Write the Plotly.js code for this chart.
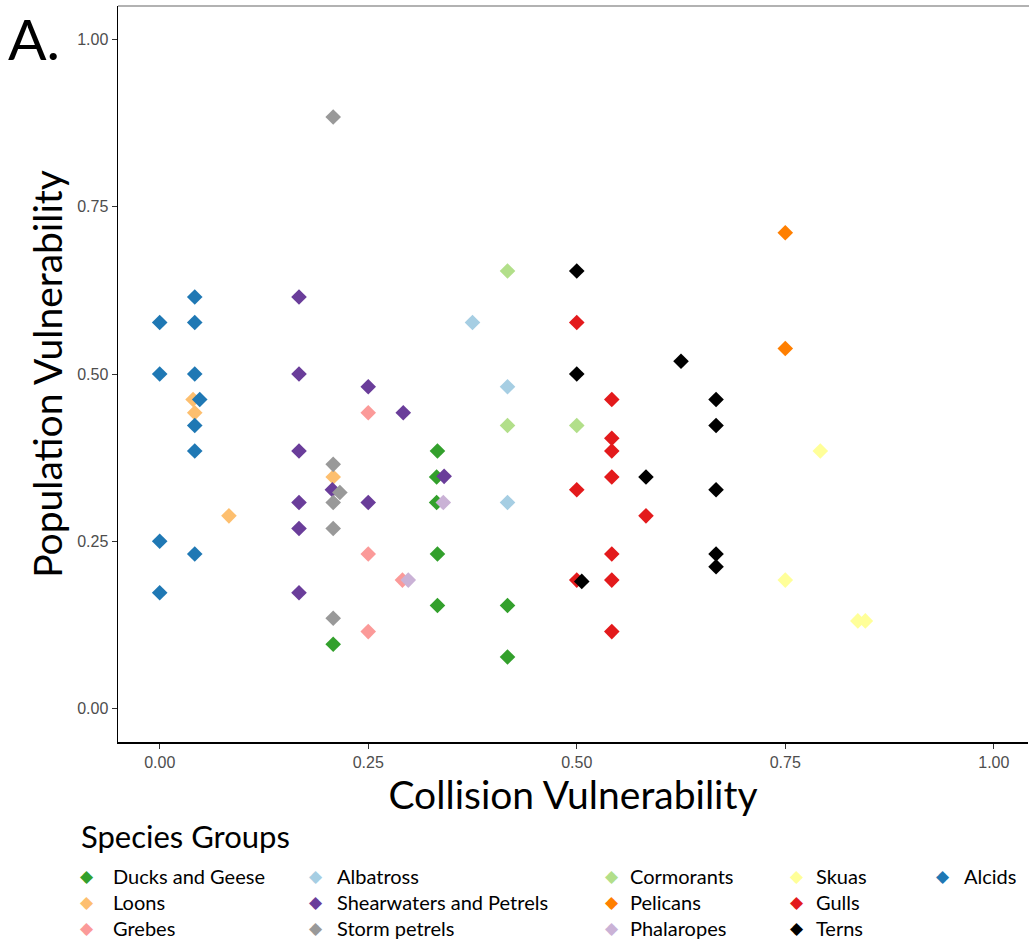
<!DOCTYPE html>
<html>
<head>
<meta charset="utf-8">
<script src="https://cdn.plot.ly/plotly-3.0.1.min.js"></script>
<style>html,body{margin:0;padding:0;background:#fff;}#chart{width:1029px;height:941px;}</style>
</head>
<body>
<div id="chart"></div>
<script>
// ---- data ----
const groups = ["Ducks and Geese","Loons","Grebes","Albatross","Shearwaters and Petrels","Storm petrels","Cormorants","Pelicans","Phalaropes","Skuas","Gulls","Terns","Alcids"];
const colors = ["#33a02c","#fdbf6f","#fb9a99","#a6cee3","#6a3d9a","#999999","#b2df8a","#ff7f00","#cab2d6","#ffff99","#e31a1c","#000000","#1f78b4"];

const ducksX = [0.333,0.332,0.332,0.333,0.333,0.417,0.208,0.417];
const ducksY = [0.385,0.346,0.308,0.231,0.154,0.154,0.096,0.077];
const loonsX = [0.040,0.042,0.083,0.208];
const loonsY = [0.462,0.442,0.288,0.346];
const grebesX = [0.250,0.250,0.291,0.250];
const grebesY = [0.442,0.231,0.192,0.115];
const albatrossX = [0.375,0.417,0.417];
const albatrossY = [0.577,0.481,0.308];
const shearX = [0.167,0.167,0.167,0.167,0.167,0.167,0.250,0.292,0.250,0.207,0.341];
const shearY = [0.615,0.500,0.385,0.308,0.269,0.173,0.481,0.442,0.308,0.327,0.347];
const stormX = [0.208,0.208,0.216,0.208,0.208,0.208];
const stormY = [0.884,0.365,0.323,0.308,0.269,0.135];
const cormX = [0.417,0.417,0.500];
const cormY = [0.654,0.423,0.423];
const pelicanX = [0.750,0.750];
const pelicanY = [0.711,0.538];
const phalX = [0.340,0.298];
const phalY = [0.308,0.192];
const skuaX = [0.792,0.750,0.837,0.846];
const skuaY = [0.385,0.192,0.131,0.131];
const gullX = [0.500,0.542,0.542,0.542,0.542,0.500,0.583,0.542,0.500,0.542,0.542];
const gullY = [0.577,0.462,0.404,0.385,0.346,0.327,0.288,0.231,0.192,0.192,0.115];
const ternX = [0.500,0.500,0.625,0.667,0.667,0.583,0.667,0.667,0.667,0.506];
const ternY = [0.654,0.500,0.519,0.462,0.423,0.346,0.327,0.231,0.212,0.190];
const alcidX = [0.042,0.000,0.042,0.000,0.042,0.048,0.042,0.042,0.000,0.042,0.000];
const alcidY = [0.615,0.577,0.577,0.500,0.500,0.462,0.423,0.385,0.250,0.231,0.173];

const seriesX = [ducksX,loonsX,grebesX,albatrossX,shearX,stormX,cormX,pelicanX,phalX,skuaX,gullX,ternX,alcidX];
const seriesY = [ducksY,loonsY,grebesY,albatrossY,shearY,stormY,cormY,pelicanY,phalY,skuaY,gullY,ternY,alcidY];

const tickVals = [0,0.25,0.5,0.75,1];
const tickText = ["0.00","0.25","0.50","0.75","1.00"];

// ---- layout geometry ----
const W = 1029, H = 941;
const M = {l:118, r:1, t:6, b:199};
const plotW = W - M.l - M.r, plotH = H - M.t - M.b;
const px2x = p => (p - M.l) / plotW;
const py2y = p => (H - M.b - p) / plotH;

const TITLE_FONT = "Lato, 'Open Sans', sans-serif";
const TICK_FONT = "'Liberation Sans', Arial, sans-serif";

const traces = groups.map((g, i) => ({
  type: "scatter",
  mode: "markers",
  name: g,
  x: seriesX[i],
  y: seriesY[i],
  marker: {symbol: "diamond", size: 12, color: colors[i], line: {width: 0}},
  showlegend: false,
  hoverinfo: "x+y+name"
}));

// legend (column-major, 3 rows)
const colDiamondX = [87, 316, 612, 797, 943];
const colTextX = [111, 335, 628, 814, 962];
const rowY = [876, 902, 928];
const annotations = [];
groups.forEach((g, i) => {
  const c = Math.floor(i / 3), r = i % 3;
  annotations.push({
    xref: "paper", yref: "paper", x: px2x(colDiamondX[c]), y: py2y(rowY[r]),
    xanchor: "center", yanchor: "middle", showarrow: false,
    text: "\u25C6", font: {family: "DejaVu Sans", size: 17, color: colors[i]}
  });
  annotations.push({
    xref: "paper", yref: "paper", x: px2x(colTextX[c]), y: py2y(rowY[r]),
    xanchor: "left", yanchor: "middle", showarrow: false,
    text: g, font: {family: TITLE_FONT, size: 20, color: "#000"}
  });
});
annotations.push({
  xref: "paper", yref: "paper", x: px2x(79), y: py2y(836),
  xanchor: "left", yanchor: "middle", showarrow: false,
  text: "Species Groups", font: {family: TITLE_FONT, size: 31, color: "#000"}
});
annotations.push({
  xref: "paper", yref: "paper", x: px2x(6), y: py2y(38),
  xanchor: "left", yanchor: "middle", showarrow: false,
  text: "A.", font: {family: TITLE_FONT, size: 57, color: "#000"}
});

const axisCommon = {
  showgrid: false, zeroline: false, showline: true, linecolor: "#000", linewidth: 1.5,
  ticks: "outside", ticklen: 5, tickcolor: "#333", tickwidth: 1,
  tickmode: "array", tickvals: tickVals, ticktext: tickText,
  tickfont: {family: TICK_FONT, size: 16, color: "#4d4d4d"}
};

const layout = {
  width: W, height: H, margin: M,
  paper_bgcolor: "#fff", plot_bgcolor: "#fff",
  xaxis: Object.assign({}, axisCommon, {
    range: [-0.05, 1.041],
    title: {text: "Collision Vulnerability", font: {family: TITLE_FONT, size: 39, color: "#000"}, standoff: 12}
  }),
  yaxis: Object.assign({}, axisCommon, {
    range: [-0.05, 1.05],
    title: {text: "Population Vulnerability", font: {family: TITLE_FONT, size: 39, color: "#000"}, standoff: 2}
  }),
  shapes: [{type: "line", xref: "paper", yref: "paper", x0: 0, x1: 1.01, y0: 1, y1: 1, line: {color: "#999", width: 1.5}}],
  annotations: annotations,
  showlegend: false
};

Plotly.newPlot("chart", traces, layout, {displayModeBar: false, staticPlot: true});
</script>
</body>
</html>
